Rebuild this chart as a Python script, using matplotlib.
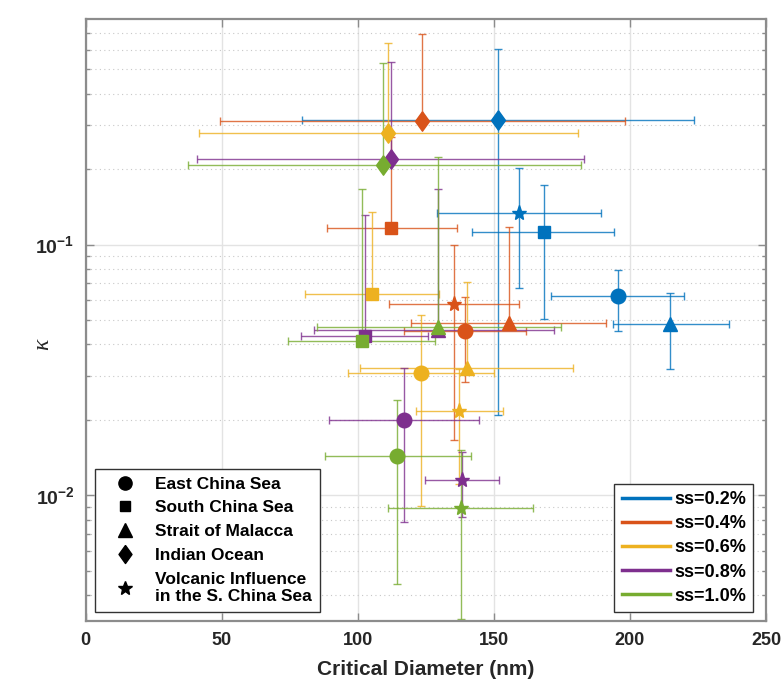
import numpy as np
import matplotlib
matplotlib.use("Agg")
import matplotlib.pyplot as plt
from matplotlib.lines import Line2D
from matplotlib.ticker import FixedLocator, FuncFormatter, NullFormatter

plt.rcParams['font.family'] = ['Liberation Sans', 'DejaVu Sans']
plt.rcParams['font.weight'] = 'bold'
plt.rcParams['mathtext.fontset'] = 'custom'
plt.rcParams['mathtext.rm'] = 'Liberation Sans:bold'
plt.rcParams['mathtext.bf'] = 'Liberation Sans:bold'
plt.rcParams['mathtext.it'] = 'Liberation Sans:bold:italic'

regions = ["East China Sea", "South China Sea", "Strait of Malacca",
           "Indian Ocean", "Volcanic Influence\nin the S. China Sea"]
ss_labels = ["ss=0.2%", "ss=0.4%", "ss=0.6%", "ss=0.8%", "ss=1.0%"]
ss_colors = ["#0072BD", "#D95319", "#EDB120", "#7E2F8E", "#77AC30"]

# rows: ss=0.2 .. 1.0 ; columns: regions in the order above
dc = [[195.5, 168.5, 214.8, 151.5, 159.2],
      [139.5, 112.4, 155.4, 123.5, 135.5],
      [123.1, 105.4, 140.0, 111.1, 137.1],
      [117.0, 102.5, 129.5, 112.1, 138.2],
      [114.6, 101.7, 129.6, 109.4, 137.8]]
dc_lo = [[170.9, 142.1, 193.9, 79.5, 129.3],
         [116.9, 88.6, 119.5, 49.5, 111.6],
         [96.5, 80.7, 100.8, 41.6, 121.5],
         [89.5, 79.2, 84.1, 41.1, 124.9],
         [87.8, 74.5, 84.9, 37.6, 111.3]]
dc_hi = [[219.7, 194.3, 236.3, 223.7, 189.5],
         [161.8, 136.3, 191.3, 198.1, 159.3],
         [150.0, 130.0, 179.2, 181.1, 153.2],
         [144.5, 126.0, 172.0, 183.2, 152.0],
         [141.6, 128.5, 174.6, 182.1, 164.3]]

kappa = [[0.0623, 0.112, 0.0482, 0.314, 0.134],
         [0.0452, 0.116, 0.0485, 0.312, 0.058],
         [0.0308, 0.0634, 0.0323, 0.278, 0.0218],
         [0.0199, 0.0432, 0.0456, 0.220, 0.01155],
         [0.01429, 0.0411, 0.047, 0.208, 0.00891]]
kappa_lo = [[0.0453, 0.0503, 0.0318, 0.0209, 0.0672],
            [0.0284, 0.116, 0.0485, 0.312, 0.0167],
            [0.0091, 0.0634, 0.0323, 0.278, 0.0111],
            [0.00781, 0.0432, 0.0456, 0.220, 0.00818],
            [0.00445, 0.0411, 0.047, 0.208, 0.0032]]
kappa_hi = [[0.0795, 0.173, 0.064, 0.603, 0.202],
            [0.0619, 0.268, 0.118, 0.695, 0.0996],
            [0.0525, 0.135, 0.071, 0.640, 0.032],
            [0.0321, 0.1315, 0.166, 0.537, 0.0149],
            [0.024, 0.166, 0.224, 0.531, 0.0152]]

# slightly tall diamond, like MATLAB's
diamond = [(0, 1), (0.72, 0), (0, -1), (-0.72, 0), (0, 1)]
markers = ['o', 's', '^', diamond, '*']
msizes = [10.5, 8.5, 10.5, 14, 11]

fig = plt.figure(figsize=(7.81, 6.91), dpi=100)
ax = fig.add_axes([0.1095, 0.1017, 0.8713, 0.8708])

for i in range(5):
    c = ss_colors[i]
    for j in range(5):
        x, y = dc[i][j], kappa[i][j]
        xerr = [[x - dc_lo[i][j]], [dc_hi[i][j] - x]]
        yerr = [[y - kappa_lo[i][j]], [kappa_hi[i][j] - y]]
        ax.errorbar([x], [y], xerr=xerr, yerr=yerr, fmt='none', ecolor=c,
                    elinewidth=1.0, capsize=3.2, capthick=1.0, alpha=0.8,
                    zorder=2)
        ax.plot([x], [y], linestyle='none', marker=markers[j],
                markersize=msizes[j], color=c, markeredgecolor=c, zorder=3)

ax.set_yscale('log')
ax.set_xlim(0, 250)
ax.set_ylim(10 ** -2.5, 10 ** -0.1)

ax.xaxis.set_major_locator(FixedLocator([0, 50, 100, 150, 200, 250]))
ax.yaxis.set_major_locator(FixedLocator([0.01, 0.1]))
ax.yaxis.set_minor_locator(FixedLocator(
    [k * 10.0 ** e for e in (-3, -2, -1) for k in range(2, 10)]))
ax.yaxis.set_minor_formatter(NullFormatter())
ax.yaxis.set_major_formatter(FuncFormatter(
    lambda v, p: r'$\mathbf{10^{%d}}$' % int(round(np.log10(v)))))

ax.grid(True, which='major', axis='both', color='#e3e3e3', linewidth=1.0)
ax.grid(True, which='minor', axis='y', color='#c8c8c8', linestyle=(0, (1, 3)),
        linewidth=0.8)
ax.set_axisbelow(True)

for s in ax.spines.values():
    s.set_color('#8c8c8c')
    s.set_linewidth(1.6)
ax.tick_params(which='both', direction='in', top=True, right=True,
               color='#8c8c8c', labelcolor='#262626', labelsize=13, width=1.0)
ax.tick_params(which='major', length=6, pad=8)
ax.tick_params(which='minor', length=3)
ax.tick_params(axis='y', which='major', labelsize=14)
for lbl in ax.get_xticklabels():
    lbl.set_fontweight('bold')

ax.set_xlabel('Critical Diameter (nm)', fontsize=15, fontweight='bold',
              color='#262626', labelpad=8)
ax.set_ylabel('κ', fontsize=17, family='Liberation Serif', style='italic',
              fontweight='normal', color='#262626')
ax.yaxis.set_label_coords(-0.047, 0.46)

region_handles = [Line2D([], [], linestyle='none', marker=markers[j],
                         markersize=msizes[j] - 1, color='black')
                  for j in range(5)]
leg1 = ax.legend(region_handles, regions, loc='lower left',
                 bbox_to_anchor=(0.014, 0.0145), borderaxespad=0,
                 prop={'weight': 'bold', 'size': 12.5},
                 frameon=True, fancybox=False, edgecolor='#333333',
                 framealpha=1, handlelength=2.6, handletextpad=0.4,
                 labelspacing=0.5, borderpad=0.45)
leg1.get_frame().set_linewidth(1.0)
ax.add_artist(leg1)

ss_handles = [Line2D([], [], color=c, linewidth=2.5) for c in ss_colors]
leg2 = ax.legend(ss_handles, ss_labels, loc='lower right',
                 bbox_to_anchor=(0.981, 0.0145), borderaxespad=0,
                 prop={'weight': 'bold', 'size': 13},
                 frameon=True, fancybox=False, edgecolor='#333333',
                 framealpha=1, handlelength=2.7, handletextpad=0.2,
                 labelspacing=0.4, borderpad=0.4)
leg2.get_frame().set_linewidth(1.0)

fig.savefig('out.png', dpi=100)
